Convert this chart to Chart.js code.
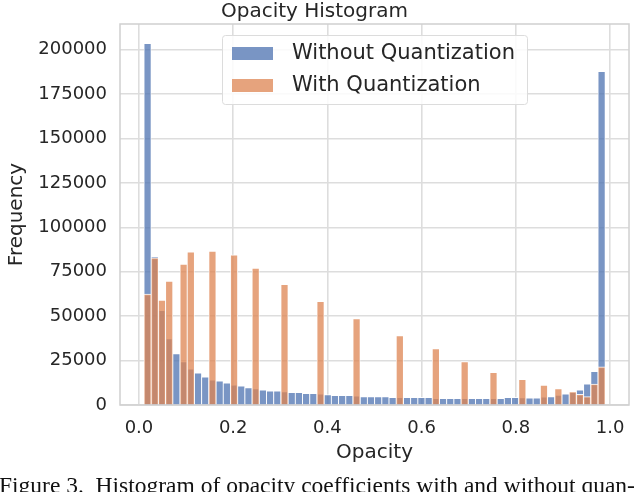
<!DOCTYPE html>
<html>
<head>
<meta charset="utf-8">
<script src="https://cdn.jsdelivr.net/npm/chart.js@4.4.0/dist/chart.umd.min.js"></script>
<style>
  html, body { margin: 0; padding: 0; background: #fff; }
  #wrap { position: relative; width: 640px; height: 492px; overflow: hidden; }
  #chart { position: absolute; left: 0; top: 0; }
  #caption {
    position: absolute; left: -1px; top: 474px; white-space: nowrap;
    font-family: "Liberation Serif", "Times New Roman", serif; font-size: 23.5px;
    line-height: 23px; color: #111;
  }
</style>
</head>
<body>
<div id="wrap">
  <canvas id="chart" width="640" height="492"></canvas>
  <div id="caption">Figure 3.&nbsp; Histogram of opacity coefficients with and without quan-</div>
</div>
<script>
// Histograma: 64 bins iguales sobre el rango observado de opacidad
const binLo = 0.0106;
const binHi = 0.9898;
const binCount = 64;

const withoutQuant = [
  203600, 83500, 53300, 37400, 28900, 24400, 20400, 18100, 15900, 14200,
  13600, 12500, 11300, 10800, 9800, 9200, 8600, 8000, 8000, 7500,
  7100, 7100, 6500, 6500, 6300, 5900, 5400, 5400, 5400, 5200,
  4800, 4800, 4800, 4800, 4300, 4300, 4300, 4300, 4300, 4300,
  3800, 3800, 3800, 3800, 3800, 3800, 3800, 3800, 3800, 3700,
  4300, 4300, 4200, 4100, 4100, 4600, 4700, 5600, 6300, 7200,
  8600, 11900, 19000, 187900
];

const withQuant = [
  62400, 82800, 59000, 69700, 0, 79400, 86200, 0, 0, 86700,
  0, 0, 84500, 0, 0, 77100, 0, 0, 0, 68000,
  0, 0, 0, 0, 58400, 0, 0, 0, 0, 48700,
  0, 0, 0, 0, 0, 39100, 0, 0, 0, 0,
  31800, 0, 0, 0, 24500, 0, 0, 0, 18400, 0,
  0, 0, 14500, 0, 0, 11200, 0, 9200, 0, 7600,
  6000, 4800, 11800, 21500
];

const seriesLabels = ['Without Quantization', 'With Quantization'];
const xTicks = [0, 0.2, 0.4, 0.6, 0.8, 1.0];
const yTicks = [0, 25000, 50000, 75000, 100000, 125000, 150000, 175000, 200000];

const FONT = 'DejaVu Sans';
const TEXT = '#262626';
const GRID = '#dddddd';

// centros de cada bin
const binWidth = (binHi - binLo) / binCount;
const centers = withoutQuant.map((_, i) => binLo + binWidth * (i + 0.5));
const toPoints = arr => arr.map((v, i) => ({ x: centers[i], y: v }));

// Marco gris alrededor del área del gráfico
const frame = {
  id: 'frame',
  beforeDatasetsDraw(chart) {
    const { ctx, chartArea: a } = chart;
    ctx.save();
    ctx.strokeStyle = '#d0d0d0';
    ctx.lineWidth = 1.5;
    ctx.strokeRect(a.left, a.top, a.right - a.left, a.bottom - a.top);
    ctx.restore();
  }
};

// Leyenda dentro del área, como en matplotlib
const innerLegend = {
  id: 'innerLegend',
  afterDatasetsDraw(chart) {
    const ctx = chart.ctx;
    const x = 222, y = 35, w = 305, h = 69;
    ctx.save();
    ctx.fillStyle = 'rgba(255,255,255,0.85)';
    ctx.strokeStyle = '#dcdcdc';
    ctx.lineWidth = 1;
    ctx.beginPath();
    ctx.roundRect(x + 0.5, y + 0.5, w, h, 3);
    ctx.fill();
    ctx.stroke();
    ctx.font = '21px "' + FONT + '"';
    ctx.textBaseline = 'middle';
    chart.data.datasets.forEach((ds, i) => {
      const rowY = y + 18 + i * 32;
      ctx.fillStyle = ds.backgroundColor;
      ctx.fillRect(x + 10, rowY - 6, 41, 13);
      ctx.fillStyle = TEXT;
      ctx.fillText(ds.label, x + 70, rowY + 1);
    });
    ctx.restore();
  }
};

new Chart(document.getElementById('chart'), {
  type: 'bar',
  data: {
    datasets: [
      {
        label: seriesLabels[0],
        data: toPoints(withoutQuant),
        backgroundColor: 'rgba(76, 114, 176, 0.75)',
        borderColor: 'rgba(255, 255, 255, 0.9)',
        borderWidth: { top: 1, left: 0.8, right: 0.8, bottom: 0 },
        order: 1
      },
      {
        label: seriesLabels[1],
        data: toPoints(withQuant),
        backgroundColor: 'rgba(221, 132, 82, 0.75)',
        borderColor: 'rgba(255, 255, 255, 0.9)',
        borderWidth: { top: 1, left: 0.8, right: 0.8, bottom: 0 },
        order: 0
      }
    ]
  },
  options: {
    responsive: false,
    animation: false,
    devicePixelRatio: 1,
    grouped: false,
    barPercentage: 1,
    categoryPercentage: 1,
    layout: { padding: { left: 0, right: 11, top: 0, bottom: 27.5 } },
    plugins: {
      legend: { display: false },
      tooltip: { enabled: false },
      title: {
        display: true,
        text: 'Opacity Histogram',
        color: TEXT,
        font: { family: FONT, size: 20, weight: 'normal', lineHeight: 1.2 },
        padding: { top: 0, bottom: 0 }
      }
    },
    scales: {
      x: {
        type: 'linear',
        min: -0.0403,
        max: 1.0403,
        offset: false,
        afterBuildTicks: axis => { axis.ticks = xTicks.map(v => ({ value: v })); },
        afterFit: scale => { scale.height = 59.5; },
        grid: { offset: false, color: GRID, lineWidth: 1.6, drawTicks: false },
        border: { display: false },
        ticks: {
          padding: 14,
          color: TEXT,
          font: { family: FONT, size: 18, lineHeight: 1.0 },
          maxRotation: 0,
          callback: v => v.toFixed(1)
        },
        title: {
          display: true,
          text: 'Opacity',
          color: TEXT,
          font: { family: FONT, size: 20 },
          padding: { top: 0, bottom: 0 }
        }
      },
      y: {
        min: 0,
        max: 214500,
        afterBuildTicks: axis => { axis.ticks = yTicks.map(v => ({ value: v })); },
        afterFit: scale => { scale.width = 120; },
        grid: { color: GRID, lineWidth: 1.6, drawTicks: false },
        border: { display: false },
        ticks: {
          padding: 13,
          color: TEXT,
          font: { family: FONT, size: 18 },
          callback: v => String(v)
        },
        title: {
          display: true,
          text: 'Frequency',
          color: TEXT,
          font: { family: FONT, size: 20 },
          padding: { top: 5, bottom: 0 }
        }
      }
    }
  },
  plugins: [frame, innerLegend]
});
</script>
</body>
</html>
